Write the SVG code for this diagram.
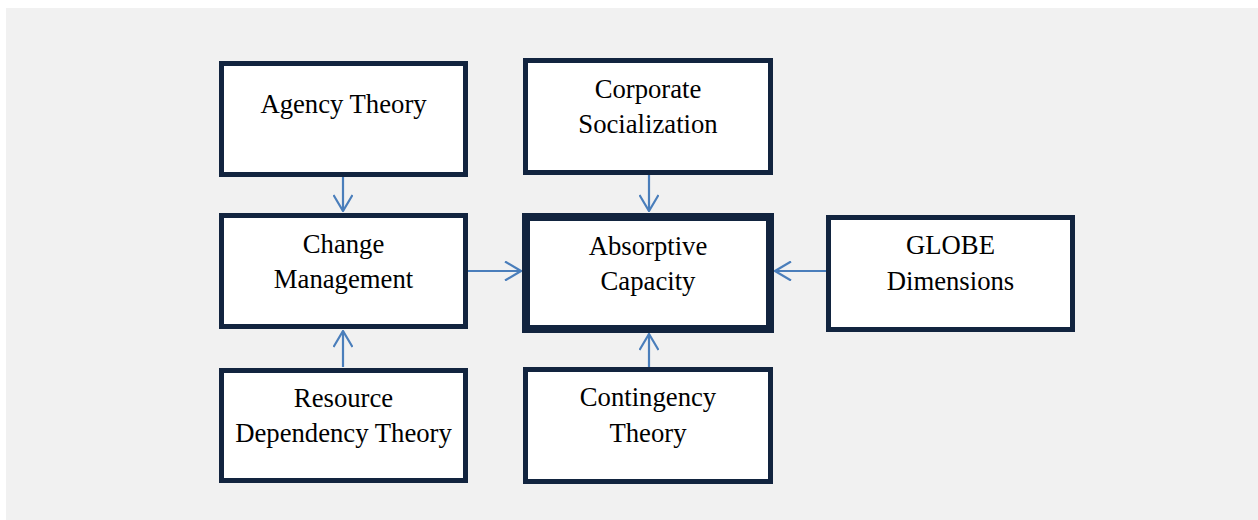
<svg xmlns="http://www.w3.org/2000/svg" width="1258" height="520" viewBox="0 0 1258 520">
  <style>
    .box { fill: #ffffff; stroke: #12243f; stroke-width: 5; }
    .box.core { stroke-width: 8; }
    .label { font-family: "Liberation Serif", "Times New Roman", serif; font-size: 26.7px; fill: #000000; text-anchor: middle; }
    .link { fill: none; stroke: #4a7ebb; stroke-width: 2.2; }
  </style>
  <defs>
    <marker id="head" viewBox="0 0 20 20" refX="19" refY="10" markerWidth="20" markerHeight="20" markerUnits="userSpaceOnUse" orient="auto">
      <path d="M3,0.5 L19,10 L3,19.5" fill="none" stroke="#4a7ebb" stroke-width="2.2"/>
    </marker>
  </defs>

  <!-- panel -->
  <rect x="6" y="8" width="1252" height="512" fill="#f1f1f1"/>

  <!-- connectors -->
  <g id="connectors">
    <line class="link" x1="343" y1="177" x2="343" y2="211" marker-end="url(#head)"/>
    <line class="link" x1="343" y1="367" x2="343" y2="331" marker-end="url(#head)"/>
    <line class="link" x1="649" y1="175" x2="649" y2="211" marker-end="url(#head)"/>
    <line class="link" x1="649" y1="367" x2="649" y2="334" marker-end="url(#head)"/>
    <line class="link" x1="468" y1="271" x2="521" y2="271" marker-end="url(#head)"/>
    <line class="link" x1="826" y1="271" x2="775" y2="271" marker-end="url(#head)"/>
  </g>

  <g id="agency-theory">
    <rect class="box" x="221.5" y="63.5" width="244" height="111"/>
    <text class="label" x="343.5" y="113">Agency Theory</text>
  </g>

  <g id="change-management">
    <rect class="box" x="221.5" y="215.5" width="244" height="111"/>
    <text class="label" x="343.5" y="253">Change</text>
    <text class="label" x="343.5" y="288">Management</text>
  </g>

  <g id="resource-dependency">
    <rect class="box" x="221.5" y="370.5" width="244" height="110"/>
    <text class="label" x="343.5" y="407">Resource</text>
    <text class="label" x="343.5" y="442">Dependency Theory</text>
  </g>

  <g id="corporate-socialization">
    <rect class="box" x="525.5" y="60.5" width="245" height="112"/>
    <text class="label" x="648" y="98">Corporate</text>
    <text class="label" x="648" y="133">Socialization</text>
  </g>

  <g id="absorptive-capacity">
    <rect class="box core" x="526" y="217" width="244" height="112"/>
    <text class="label" x="648" y="255">Absorptive</text>
    <text class="label" x="648" y="290">Capacity</text>
  </g>

  <g id="contingency-theory">
    <rect class="box" x="525.5" y="369.5" width="245" height="112"/>
    <text class="label" x="648" y="406">Contingency</text>
    <text class="label" x="648" y="442">Theory</text>
  </g>

  <g id="globe-dimensions">
    <rect class="box" x="828.5" y="217.5" width="244" height="112"/>
    <text class="label" x="950.5" y="254">GLOBE</text>
    <text class="label" x="950.5" y="290">Dimensions</text>
  </g>
</svg>
